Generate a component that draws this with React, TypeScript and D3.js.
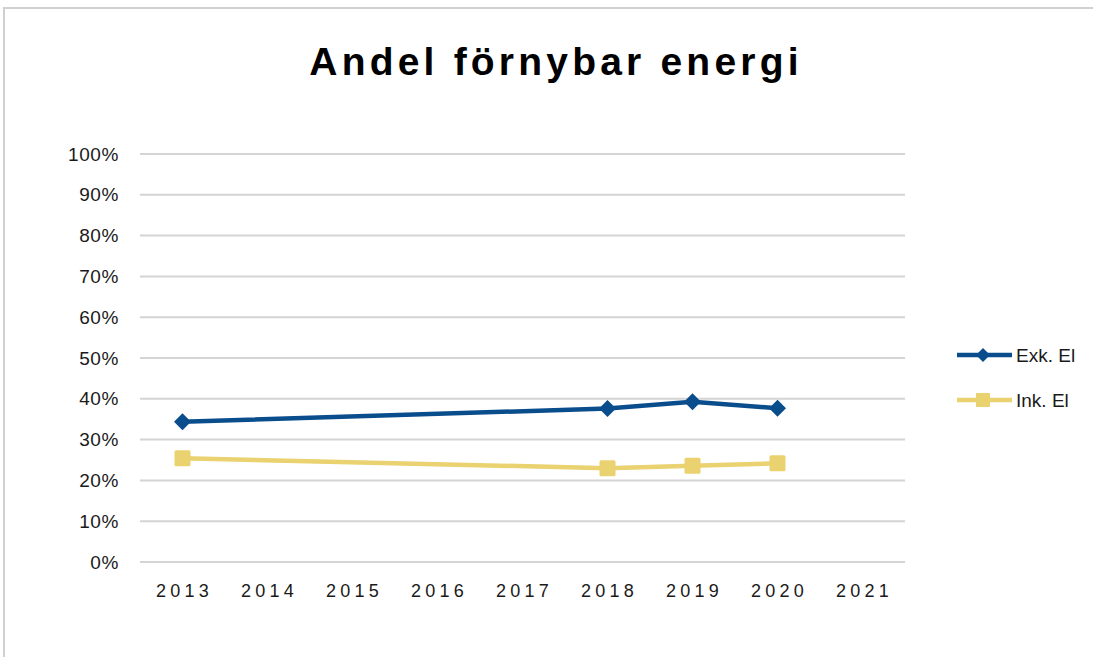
import React from "react";
import * as d3 from "d3";

const years = ["2013", "2014", "2015", "2016", "2017", "2018", "2019", "2020", "2021"];
const exkYears = ["2013", "2018", "2019", "2020"];
const exkValues = [0.344, 0.376, 0.393, 0.377];
const inkYears = ["2013", "2018", "2019", "2020"];
const inkValues = [0.254, 0.230, 0.236, 0.242];
const yTicks = [0, 0.1, 0.2, 0.3, 0.4, 0.5, 0.6, 0.7, 0.8, 0.9, 1.0];
const seriesNames = ["Exk. El", "Ink. El"];
const title = "Andel förnybar energi";

const BLUE = "#0A4D8C";
const YELLOW = "#E9D26F";
const FONT = "'Liberation Sans', 'Open Sans', sans-serif";

export default function App() {
  const W = 1093, H = 657;
  const x = d3.scaleBand().domain(years).range([140, 905]);
  const y = d3.scaleLinear().domain([0, 1]).range([562, 154]);
  const cx = (yr: string) => (x(yr) as number) + x.bandwidth() / 2;
  const line = d3.line<[string, number]>().x((d) => cx(d[0])).y((d) => y(d[1]));
  const exk = exkYears.map((yr, i) => [yr, exkValues[i]] as [string, number]);
  const ink = inkYears.map((yr, i) => [yr, inkValues[i]] as [string, number]);
  const diamond = (px: number, py: number, r: number) =>
    `M${px},${py - r}L${px + r},${py}L${px},${py + r}L${px - r},${py}Z`;
  return (
    <svg width={W} height={H} style={{ position: "absolute", left: 0, top: 0, background: "#fff" }}>
      <rect x={4} y={8} width={W + 10} height={H + 10} fill="#fff" stroke="#d0d0d0" strokeWidth={2} />
      <text x={556} y={75} textAnchor="middle" fontFamily={FONT} fontWeight="bold" fontSize={39} letterSpacing={4.2} fill="#000">
        {title}
      </text>
      {yTicks.map((t) => (
        <g key={t}>
          <line x1={140} x2={905} y1={y(t)} y2={y(t)} stroke="#d4d4d4" strokeWidth={2} />
          <text x={119} y={y(t) + 6.5} textAnchor="end" fontFamily={FONT} fontSize={19} letterSpacing={0.6} fill="#1a1a1a">
            {`${Math.round(t * 100)}%`}
          </text>
        </g>
      ))}
      {years.map((yr) => (
        <text key={yr} x={cx(yr) + 2} y={597} textAnchor="middle" fontFamily={FONT} fontSize={18} letterSpacing={4.2} fill="#1a1a1a">
          {yr}
        </text>
      ))}
      <path d={line(ink) || ""} fill="none" stroke={YELLOW} strokeWidth={4.5} />
      {ink.map((d) => (
        <rect key={d[0]} x={cx(d[0]) - 8} y={y(d[1]) - 8} width={16} height={16} rx={1.5} fill={YELLOW} />
      ))}
      <path d={line(exk) || ""} fill="none" stroke={BLUE} strokeWidth={4.5} />
      {exk.map((d) => (
        <path key={d[0]} d={diamond(cx(d[0]), y(d[1]), 8.5)} fill={BLUE} />
      ))}
      <g>
        <line x1={957} x2={1012} y1={355} y2={355} stroke={BLUE} strokeWidth={4.5} />
        <path d={diamond(983, 355, 7)} fill={BLUE} />
        <text x={1016} y={361.5} fontFamily={FONT} fontSize={19} fill="#1a1a1a">{seriesNames[0]}</text>
        <line x1={957} x2={1012} y1={400} y2={400} stroke={YELLOW} strokeWidth={4.5} />
        <rect x={976} y={393} width={14} height={14} fill={YELLOW} />
        <text x={1016} y={406.5} fontFamily={FONT} fontSize={19} fill="#1a1a1a">{seriesNames[1]}</text>
      </g>
    </svg>
  );
}
